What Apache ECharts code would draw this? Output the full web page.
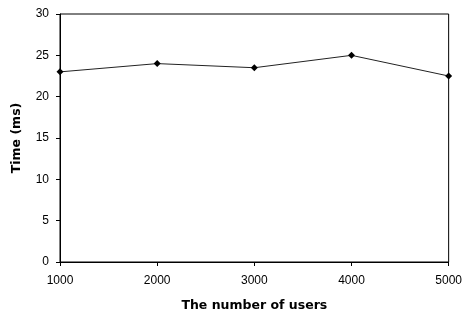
<!DOCTYPE html>
<html>
<head>
<meta charset="utf-8">
<script src="https://cdn.jsdelivr.net/npm/echarts@6/dist/echarts.min.js"></script>
<style>
  html, body { margin: 0; padding: 0; background: #fff; }
  #chart { width: 465px; height: 317px; }
</style>
</head>
<body>
<div id="chart"></div>
<script>
const users = ["1000", "2000", "3000", "4000", "5000"];
const timeMs = [23, 24, 23.5, 25, 22.5];
const yTicks = { min: 0, max: 30, step: 5 };

const chart = echarts.init(document.getElementById("chart"));
const font = "Liberation Sans, Arial, sans-serif";
const boldFont = "DejaVu Sans, Verdana, sans-serif";

const option = {
  animation: false,
  grid: {
    left: 60,
    right: 13,
    top: 14,
    bottom: 52,
    show: true,
    borderColor: "#000",
    borderWidth: 1,
  },
  xAxis: {
    type: "category",
    data: users,
    boundaryGap: false,
    name: "The number of users",
    nameLocation: "middle",
    nameGap: 37,
    nameTextStyle: { fontFamily: boldFont, fontSize: 12.5, fontWeight: "bold", color: "#000" },
    axisLine: { lineStyle: { color: "#000", width: 1 } },
    axisTick: { show: true, length: 4, lineStyle: { color: "#000" } },
    axisLabel: { fontFamily: font, fontSize: 12, color: "#000", margin: 13 },
    splitLine: { show: false },
  },
  yAxis: {
    type: "value",
    min: yTicks.min,
    max: yTicks.max,
    interval: yTicks.step,
    name: "Time (ms)",
    nameLocation: "middle",
    nameGap: 37,
    nameTextStyle: { fontFamily: boldFont, fontSize: 12.5, fontWeight: "bold", color: "#000" },
    axisLine: { show: true, lineStyle: { color: "#000", width: 1 } },
    axisTick: { show: true, length: 4, lineStyle: { color: "#000" } },
    axisLabel: { fontFamily: font, fontSize: 12, color: "#000", margin: 11 },
    splitLine: { show: false },
  },
  series: [
    {
      type: "line",
      data: timeMs,
      symbol: "diamond",
      symbolSize: 7,
      itemStyle: { color: "#000" },
      lineStyle: { color: "#222", width: 1 },
    },
  ],
};

chart.setOption(option);
</script>
</body>
</html>
